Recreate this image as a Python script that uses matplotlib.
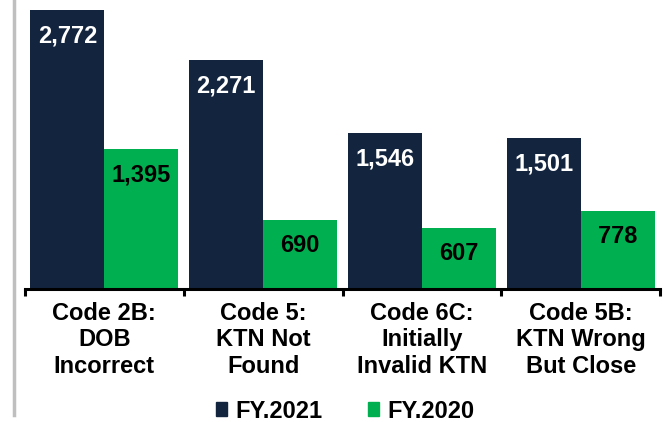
import matplotlib
matplotlib.use("Agg")
import matplotlib.pyplot as plt
from matplotlib.lines import Line2D
from matplotlib.patches import Patch
import numpy as np

plt.rcParams['font.family'] = ['Liberation Sans', 'DejaVu Sans']
plt.rcParams['font.weight'] = 'bold'

categories = ["Code 2B:\nDOB\nIncorrect", "Code 5:\nKTN Not\nFound",
              "Code 6C:\nInitially\nInvalid KTN", "Code 5B:\nKTN Wrong\nBut Close"]
fy2021 = [2772, 2271, 1546, 1501]
fy2020 = [1395, 690, 607, 778]
series_names = ["FY.2021", "FY.2020"]

navy = "#13243F"
green = "#00B050"

W, H = 665, 422
fig = plt.figure(figsize=(W / 100, H / 100), dpi=100)
ax = fig.add_axes([25 / W, (H - 289) / H, 635 / W, 289 / H])

x = np.arange(len(categories))
w = 0.466
b1 = ax.bar(x - w / 2, fy2021, w, color=navy)
b2 = ax.bar(x + w / 2, fy2020, w, color=green)

ax.set_xlim(-0.5, len(categories) - 0.5)
ax.set_ylim(0, 2872)

# value labels inside the top of each bar
for bars, vals, col in [(b1, fy2021, "white"), (b2, fy2020, "black")]:
    for r, v in zip(bars, vals):
        ax.annotate(f"{v:,}", (r.get_x() + r.get_width() / 2, v),
                    xytext=(0, -26), textcoords="offset pixels",
                    ha="center", va="center", color=col,
                    fontsize=17, fontweight="bold")

for s in ["top", "right", "left"]:
    ax.spines[s].set_visible(False)
ax.spines["bottom"].set_linewidth(2.2)
ax.set_yticks([])

ax.set_xticks(x)
ax.set_xticklabels(categories, fontsize=17, fontweight="bold", linespacing=1.22)
ax.tick_params(axis="x", which="major", length=0, pad=9)
ax.set_xticks(np.arange(len(categories) + 1) - 0.5, minor=True)
ax.tick_params(axis="x", which="minor", length=5, width=2.2, direction="out")

handles = [Patch(color=navy), Patch(color=green)]
fig.legend(handles, series_names, loc="center", bbox_to_anchor=(0.519, 0.026),
           ncol=2, frameon=False, handlelength=0.5,
           handleheight=0.5, handletextpad=0.35, columnspacing=1.9,
           prop={"weight": "bold", "size": 17})

# thin grey border on the left
fig.add_artist(Line2D([13.5 / W, 13.5 / W], [7 / H, 1], color="#BFBFBF", lw=2.5))

fig.savefig("out.png", dpi=100)
